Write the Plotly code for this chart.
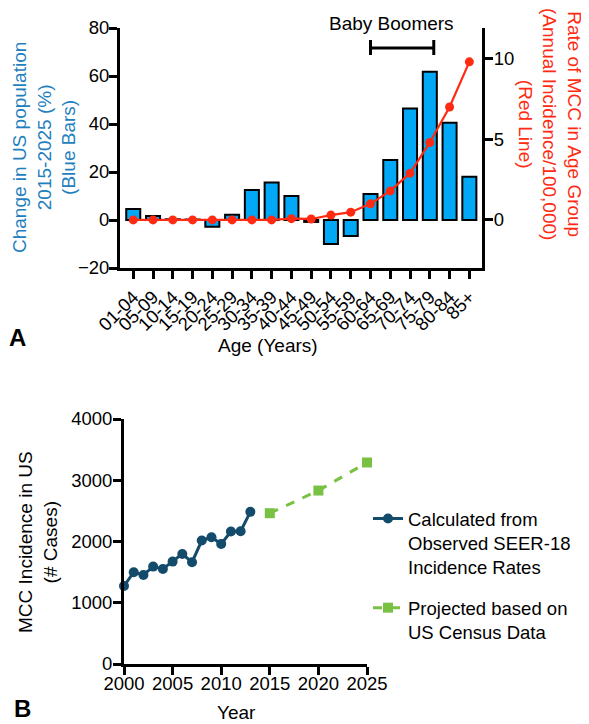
import plotly.graph_objects as go

W, H = 589, 724
OFF = 8                      # default page body margin
FW, FH = W - OFF, H - OFF    # figure size that fits the window

# ---------------- Data ----------------
age_groups = ["01-04", "05-09", "10-14", "15-19", "20-24", "25-29", "30-34", "35-39",
              "40-44", "45-49", "50-54", "55-59", "60-64", "65-69", "70-74", "75-79",
              "80-84", "85+"]
pop_change_pct = [4.6, 1.7, 0.3, 0.2, -2.8, 2.2, 12.5, 15.6, 10.0, -0.8, -10.0, -6.7,
                  10.8, 25.0, 46.5, 61.8, 40.5, 18.0]
mcc_rate = [0.0, 0.0, 0.0, 0.0, 0.0, 0.0, 0.0, 0.0, 0.08, 0.06, 0.3, 0.48,
            1.0, 1.8, 2.9, 4.8, 7.0, 9.8]

obs_years = list(range(2000, 2014))
obs_cases = [1274, 1498, 1454, 1590, 1552, 1672, 1797, 1662, 2015, 2070, 1961, 2162,
             2168, 2484]
proj_years = [2015, 2020, 2025]
proj_cases = [2462, 2832, 3290]

left_ticks = [-20, 0, 20, 40, 60, 80]
right_ticks = [0, 5, 10]
b_xticks = [2000, 2005, 2010, 2015, 2020, 2025]
b_yticks = [0, 1000, 2000, 3000, 4000]

# ---------------- Styles ----------------
FONT = "Liberation Sans, Arial, Helvetica, sans-serif"
BLUE = "#00A8F5"
RED = "#FF2A12"
TEAL = "#134B6B"
GREEN = "#78C143"
TITLE_BLUE = "#1F80C0"
TICK_SIZE = 18.5
TEXT_SIZE = 19


def px_x(p):
    return (p - OFF) / FW


def px_y(p):
    return 1 - (p - OFF) / FH


fig = go.Figure()

fig.add_trace(go.Bar(
    x=age_groups, y=pop_change_pct, xaxis="x", yaxis="y",
    marker=dict(color=BLUE, line=dict(color="black", width=2)),
    width=0.71, showlegend=False,
))
fig.add_trace(go.Scatter(
    x=age_groups, y=mcc_rate, xaxis="x", yaxis="y2", mode="lines+markers",
    line=dict(color=RED, width=2.2), marker=dict(color=RED, size=9),
    showlegend=False, cliponaxis=False,
))
fig.add_trace(go.Scatter(
    x=obs_years, y=obs_cases, xaxis="x2", yaxis="y3", mode="lines+markers",
    line=dict(color=TEAL, width=3), marker=dict(color=TEAL, size=10, symbol="circle"),
    name="Calculated from<br>Observed SEER-18<br>Incidence Rates",
    legendgroup="obs", cliponaxis=False,
))
fig.add_trace(go.Scatter(
    x=proj_years, y=proj_cases, xaxis="x2", yaxis="y3", mode="lines+markers",
    line=dict(color=GREEN, width=3, dash="dash"),
    marker=dict(color=GREEN, size=10, symbol="square"),
    name="Projected based on<br>US Census Data",
    legendgroup="proj", cliponaxis=False,
))

axis_common = dict(
    showline=True, linecolor="black", linewidth=3,
    ticks="outside", ticklen=8, tickwidth=3, tickcolor="black",
    showgrid=False, zeroline=False, automargin=False,
    tickfont=dict(family=FONT, size=TICK_SIZE, color="black"),
)

fig.update_layout(
    template="none",
    width=FW, height=FH,
    margin=dict(l=0, r=0, t=0, b=0, pad=0, autoexpand=False),
    paper_bgcolor="white", plot_bgcolor="rgba(0,0,0,0)",
    font=dict(family=FONT, size=TEXT_SIZE, color="black"),
    xaxis=dict(
        domain=[px_x(120), px_x(482)], anchor="y",
        type="category", range=[-0.67, 17.64], tickangle=-45,
        tickmode="array", tickvals=age_groups, ticktext=age_groups,
        **axis_common,
    ),
    yaxis=dict(
        domain=[px_y(268), px_y(28)], anchor="x",
        range=[-20, 80], tickvals=left_ticks, ticklabelstandoff=-4,
        **axis_common,
    ),
    yaxis2=dict(
        overlaying="y", side="right", anchor="x",
        range=[-2.98, 11.9], tickvals=right_ticks, ticklabelstandoff=-3,
        **axis_common,
    ),
    xaxis2=dict(
        domain=[px_x(124), px_x(367)], anchor="y3",
        range=[2000, 2025], tickvals=b_xticks, ticklabelstandoff=-7,
        **axis_common,
    ),
    yaxis3=dict(
        domain=[px_y(664), px_y(419)], anchor="x2",
        range=[0, 4000], tickvals=b_yticks, ticklabelstandoff=-3,
        **axis_common,
    ),
    legend=dict(
        x=px_x(368), y=px_y(500), xanchor="left", yanchor="top",
        font=dict(family=FONT, size=TICK_SIZE, color="black"),
        valign="top", tracegroupgap=14, bgcolor="rgba(0,0,0,0)",
        itemwidth=30,
    ),
)

# Baby boomers bracket
y_br = px_y(48)
fig.add_shape(type="line", xref="x", yref="paper", x0=12, x1=15.2, y0=y_br, y1=y_br,
              line=dict(color="black", width=3))
for xv in (12, 15.2):
    fig.add_shape(type="line", xref="x", yref="paper", x0=xv, x1=xv,
                  y0=px_y(40), y1=px_y(55), line=dict(color="black", width=3))

ann = [
    dict(text="Change in US population<br>2015-2025 (%)<br>(Blue Bars)", x=px_x(44), y=px_y(148),
         textangle=-90, font=dict(color=TITLE_BLUE, size=TEXT_SIZE)),
    dict(text="Rate of MCC in Age Group<br>(Annual Incidence/100,000)<br>(Red Line)",
         x=px_x(550), y=px_y(124), textangle=90, font=dict(color=RED, size=TEXT_SIZE)),
    dict(text="Baby Boomers", x=px_x(391), y=px_y(24), font=dict(size=TEXT_SIZE)),
    dict(text="<b>A</b>", x=px_x(17), y=px_y(337), font=dict(size=24)),
    dict(text="Age (Years)", x=px_x(268), y=px_y(345), font=dict(size=TEXT_SIZE)),
    dict(text="MCC Incidence in US<br>(# Cases)", x=px_x(38), y=px_y(542), textangle=-90,
         font=dict(size=TEXT_SIZE)),
    dict(text="<b>B</b>", x=px_x(22), y=px_y(708), font=dict(size=24)),
    dict(text="Year", x=px_x(236), y=px_y(712), font=dict(size=TEXT_SIZE)),
]
for a in ann:
    a.update(xref="paper", yref="paper", showarrow=False, xanchor="center", yanchor="middle")
    a["font"] = dict(family=FONT, color=a["font"].get("color", "black"), size=a["font"]["size"])
    fig.add_annotation(**a)

fig.write_html("out.html")
